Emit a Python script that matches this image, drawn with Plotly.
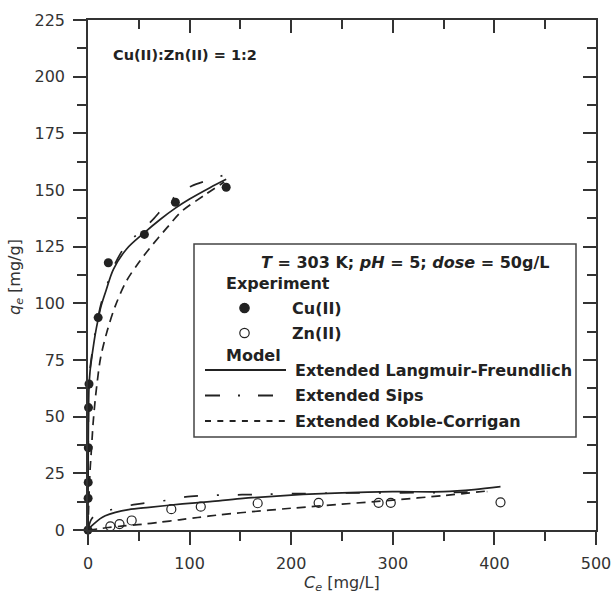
import plotly.graph_objects as go

# ---------------- data ----------------
cu_ce = [0, 0.1, 0.2, 0.3, 0.5, 1.0, 10, 20, 55.5, 86, 136]
cu_qe = [0, 14, 21, 36.3, 54, 64.4, 93.7, 117.9, 130.4, 144.6, 151.2]

zn_ce = [22, 31, 43, 82, 111, 167, 227, 286, 298, 406]
zn_qe = [1.6, 2.6, 4.2, 9.2, 10.3, 11.8, 12.0, 12.0, 12.0, 12.2]

# model curves
cu_lf_ce = [0, 0.1, 0.3, 0.6, 1, 2, 4, 7, 10, 13, 18, 25, 38, 55, 71, 86, 100, 120, 136]
cu_lf_qe = [0, 20, 40, 55, 63, 70, 77, 86, 93, 99, 106, 115, 124, 131, 137, 142, 146, 151, 154.7]

cu_sips_ce = [0, 0.1, 0.3, 0.6, 1, 2, 4, 7, 10, 13, 18, 25, 38, 55, 65, 75, 87, 102, 119, 137]
cu_sips_qe = [0, 22, 42, 56, 64, 71, 78, 87, 94, 100, 107, 116, 126, 133, 137.5, 142.5, 147.5, 151.8, 154.4, 157]

cu_kc_ce = [0, 1, 2, 3, 4, 5, 7, 9, 12.4, 19, 27, 38, 50, 61, 78, 92, 114, 134]
cu_kc_qe = [0, 15, 26, 33, 40, 47, 57, 65, 76, 88, 99, 110, 118, 124.5, 133.5, 140.5, 147.5, 153.5]

zn_lf_ce = [0, 3, 7.5, 12, 17, 27, 40, 60, 93, 120, 150, 200, 250, 300, 350, 380, 406]
zn_lf_qe = [0, 1.6, 3.4, 5.0, 6.3, 7.8, 9.0, 10.0, 11.5, 12.5, 13.8, 15.4, 16.4, 16.9, 16.9, 17.8, 19.1]

zn_sips_ce = [0, 3, 8, 15, 26.5, 45, 58, 79, 96, 111, 131, 170, 200, 250, 300, 350, 393]
zn_sips_qe = [0, 4.5, 7.0, 8.2, 9.3, 11.2, 12.0, 13.2, 14.6, 15.1, 15.4, 15.7, 16.0, 16.3, 16.4, 16.5, 16.9]

zn_kc_ce = [0, 10, 20, 35, 53, 70, 90, 108, 126, 150, 200, 250, 300, 350, 395]
zn_kc_qe = [0, 0.5, 1.1, 1.8, 2.5, 3.4, 4.5, 5.5, 6.5, 7.6, 9.6, 11.4, 13.2, 15.2, 17.3]

x_ticks = [0, 100, 200, 300, 400, 500]
y_ticks = [0, 25, 50, 75, 100, 125, 150, 175, 200, 225]

condition_text = "<b><i>T</i> = 303 K; <i>pH</i> = 5; <i>dose</i> = 50g/L</b>"
ratio_text = "<b>Cu(II):Zn(II) = 1:2</b>"
model_names = ["Extended Langmuir-Freundlich", "Extended Sips", "Extended Koble-Corrigan"]

# ---------------- styling ----------------
FONT = "DejaVu Sans"
INK = "#222222"
AX = "#333333"
SIPS_DASH = "14px,19px,2px,19px"
KC_DASH = "9px,6px"

W, H = 611, 593
L, R, T, B = 88, 596, 20, 530


def px(x):
    return (x - L) / (R - L)


def py(y):
    return (B - y) / (B - T)


fig = go.Figure()

line_w = 1.7
for xs, ys, dash in [
    (cu_lf_ce, cu_lf_qe, "solid"),
    (cu_sips_ce, cu_sips_qe, SIPS_DASH),
    (cu_kc_ce, cu_kc_qe, KC_DASH),
    (zn_lf_ce, zn_lf_qe, "solid"),
    (zn_sips_ce, zn_sips_qe, SIPS_DASH),
    (zn_kc_ce, zn_kc_qe, KC_DASH),
]:
    fig.add_trace(go.Scatter(x=xs, y=ys, mode="lines",
                             line=dict(color=INK, width=line_w, dash=dash, shape="spline", smoothing=0.9),
                             showlegend=False, hoverinfo="skip"))

fig.add_trace(go.Scatter(x=cu_ce, y=cu_qe, mode="markers", cliponaxis=False,
                         marker=dict(symbol="circle", size=9, color=INK, line=dict(width=0)),
                         showlegend=False))
fig.add_trace(go.Scatter(x=zn_ce, y=zn_qe, mode="markers", cliponaxis=False,
                         marker=dict(symbol="circle-open", size=9, color=INK, line=dict(width=1.2, color=INK)),
                         showlegend=False))

# dummy traces so that the top and right (inside-tick) axes are drawn
fig.add_trace(go.Scatter(x=[None], y=[None], xaxis="x2", yaxis="y", showlegend=False, hoverinfo="skip"))
fig.add_trace(go.Scatter(x=[None], y=[None], xaxis="x", yaxis="y2", showlegend=False, hoverinfo="skip"))

common = dict(showgrid=False, zeroline=False, showline=True, linecolor=AX, linewidth=1.5,
              tickcolor=AX, tickwidth=1.5, ticklen=13, ticklabeloverflow="allow", automargin=False,
              tickfont=dict(family=FONT, size=16, color=AX))

fig.update_layout(
    width=W, height=H,
    margin=dict(l=L, r=W - R, t=T, b=H - B, pad=0, autoexpand=False),
    paper_bgcolor="white", plot_bgcolor="white",
    showlegend=False,
    xaxis=dict(range=[0, 500], tickvals=x_ticks, ticks="outside", ticklabelstandoff=5,
               minor=dict(ticks="outside", dtick=50, ticklen=9, tickwidth=1.5, tickcolor=AX),
               **common),
    yaxis=dict(range=[0, 225], tickvals=y_ticks, ticks="outside", ticklabelstandoff=5,
               minor=dict(ticks="outside", dtick=12.5, ticklen=9, tickwidth=1.5, tickcolor=AX),
               **common),
    xaxis2=dict(range=[0, 500], overlaying="x", side="top", anchor="y", tickvals=x_ticks,
                ticks="inside", showticklabels=False,
                minor=dict(ticks="inside", dtick=50, ticklen=9, tickwidth=1.5, tickcolor=AX),
                **common),
    yaxis2=dict(range=[0, 225], overlaying="y", side="right", anchor="x", tickvals=y_ticks,
                ticks="inside", showticklabels=False,
                minor=dict(ticks="inside", dtick=12.5, ticklen=9, tickwidth=1.5, tickcolor=AX),
                **common),
)

# axis titles
ann = []
ann.append(dict(text="<i>C<sub>e</sub></i> [mg/L]", x=px(342), y=py(583), xref="paper", yref="paper",
                xanchor="center", yanchor="middle", showarrow=False,
                font=dict(family=FONT, size=16, color=AX)))
ann.append(dict(text="<i>q<sub>e</sub></i> [mg/g]", x=px(15), y=py(277), xref="paper", yref="paper",
                xanchor="center", yanchor="middle", showarrow=False, textangle=-90,
                font=dict(family=FONT, size=16, color=AX)))
# ratio label
ann.append(dict(text=ratio_text, x=px(111), y=py(55), xref="paper", yref="paper",
                xanchor="left", yanchor="middle", showarrow=False,
                font=dict(family=FONT, size=14.5, color=INK)))

# legend box
shapes = [dict(type="rect", xref="paper", yref="paper", x0=px(194), x1=px(576), y0=py(244), y1=py(437),
               line=dict(color="#444444", width=1.5), fillcolor="white", layer="above")]


def lab(text, x, y, size=16, anchor="left"):
    ann.append(dict(text=text, x=px(x), y=py(y), xref="paper", yref="paper",
                    xanchor=anchor, yanchor="middle", showarrow=False,
                    font=dict(family=FONT, size=size, color=INK)))


lab(condition_text, 404.5, 262, anchor="center")
lab("<b>Experiment</b>", 224, 283)
lab("<b>Cu(II)</b>", 290, 308)
lab("<b>Zn(II)</b>", 290, 333)
lab("<b>Model</b>", 224, 355)
for name, yy in zip(model_names, [370, 395.5, 421]):
    lab("<b>%s</b>" % name, 293, yy)

# legend marker samples
for yy, filled in [(308, True), (333, False)]:
    shapes.append(dict(type="circle", xref="paper", yref="paper", xsizemode="pixel", ysizemode="pixel",
                       xanchor=px(244.5), yanchor=py(yy), x0=-4.7, x1=4.7, y0=-4.7, y1=4.7,
                       fillcolor=INK if filled else "white", line=dict(color=INK, width=1.2),
                       layer="above"))
# legend line samples
for yy, dash, x1 in [(370, "solid", 286), (395.5, "15px,18px,2px,18px", 274), (421, "6px,6.3px", 285)]:
    shapes.append(dict(type="line", xref="paper", yref="paper", x0=px(205), x1=px(x1), y0=py(yy), y1=py(yy),
                       line=dict(color=INK, width=1.8, dash=dash), layer="above"))

fig.update_layout(annotations=ann, shapes=shapes)
fig.write_html("out.html")
